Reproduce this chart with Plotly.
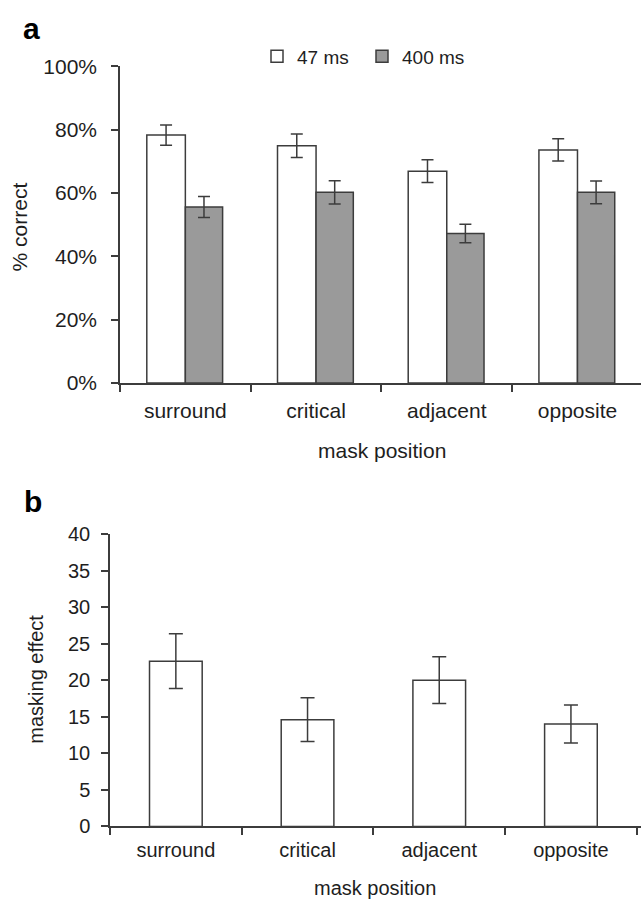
import plotly.graph_objects as go

# ---------------- data ----------------
categories = ["surround", "critical", "adjacent", "opposite"]

# panel a: % correct
correct_47ms = [78.3, 74.9, 66.9, 73.6]
err_47ms = [3.2, 3.7, 3.6, 3.5]
correct_400ms = [55.6, 60.2, 47.2, 60.2]
err_400ms = [3.3, 3.7, 2.9, 3.6]
pct_tickvals = [0, 20, 40, 60, 80, 100]
pct_ticktext = ["0%", "20%", "40%", "60%", "80%", "100%"]

# panel b: masking effect
masking_effect = [22.6, 14.6, 20.0, 14.0]
err_masking = [3.75, 3.0, 3.2, 2.6]
mask_tickvals = [0, 5, 10, 15, 20, 25, 30, 35, 40]

# ---------------- layout helpers ----------------
W, H = 641, 910
FONT = "Liberation Sans, Arial, sans-serif"
TXT = "#1e1e1e"
LINE = "#3c3c3c"
GRAY = "#9a9a9a"


def fx(p):
    return p / W


def fy(p):
    return 1 - p / H


fig = go.Figure()

fig.add_trace(go.Bar(
    x=categories, y=correct_47ms, name="47 ms",
    marker=dict(color="white", line=dict(color=LINE, width=1.5)),
    error_y=dict(type="data", array=err_47ms, color=LINE, thickness=1.5, width=6),
    width=0.295, offset=-0.295, xaxis="x", yaxis="y",
))
fig.add_trace(go.Bar(
    x=categories, y=correct_400ms, name="400 ms",
    marker=dict(color=GRAY, line=dict(color=LINE, width=1.5)),
    error_y=dict(type="data", array=err_400ms, color=LINE, thickness=1.5, width=6),
    width=0.285, offset=0.0, xaxis="x", yaxis="y",
))
fig.add_trace(go.Bar(
    x=categories, y=masking_effect, name="masking effect", showlegend=False,
    marker=dict(color="white", line=dict(color=LINE, width=1.5)),
    error_y=dict(type="data", array=err_masking, color=LINE, thickness=1.5, width=7),
    width=0.4, xaxis="x2", yaxis="y2",
))

axis_common = dict(
    showline=True, linecolor=LINE, linewidth=1.5,
    ticks="outside", ticklen=7, tickwidth=1.5, tickcolor=LINE,
    showgrid=False, zeroline=False, fixedrange=True,
)

fig.update_layout(
    width=W, height=H,
    margin=dict(l=0, r=0, t=0, b=0),
    paper_bgcolor="white", plot_bgcolor="white",
    font=dict(family=FONT, color=TXT, size=20),
    barmode="overlay",
    xaxis=dict(
        axis_common, domain=[fx(120), 1], range=[-0.5, 3.486],
        type="category", tickson="boundaries", anchor="y",
        tickfont=dict(size=21), ticklabelstandoff=8,
    ),
    yaxis=dict(
        axis_common, domain=[fy(380.7), fy(55.7)], range=[0, 100],
        tickmode="array", tickvals=pct_tickvals, ticktext=pct_ticktext, anchor="x",
        tickfont=dict(size=21), ticklabelstandoff=10,
    ),
    xaxis2=dict(
        axis_common, domain=[fx(110), 1], range=[-0.5, 3.532],
        type="category", tickson="boundaries", anchor="y2",
        tickfont=dict(size=20), ticklabelstandoff=5,
    ),
    yaxis2=dict(
        axis_common, domain=[fy(835.5), fy(535.5)], range=[0, 40],
        tickmode="array", tickvals=mask_tickvals, anchor="x2",
        tickfont=dict(size=20), ticklabelstandoff=7,
    ),
    legend=dict(
        orientation="h", x=fx(257), xanchor="left", y=fy(45.5), yanchor="middle",
        font=dict(size=19, color=TXT), bgcolor="rgba(0,0,0,0)",
        itemwidth=30, entrywidth=60, traceorder="normal",
    ),
    showlegend=True,
)

annotations = [
    dict(text="<b>a</b>", x=fx(21), y=fy(17), xanchor="left", yanchor="middle",
         font=dict(size=30, color="#000")),
    dict(text="<b>b</b>", x=fx(22), y=fy(502), xanchor="left", yanchor="middle",
         font=dict(size=30, color="#000")),
    dict(text="% correct", x=fx(19), y=fy(221), xanchor="center", yanchor="middle",
         textangle=-90, font=dict(size=21, color=TXT)),
    dict(text="mask position", x=fx(382), y=fy(450), xanchor="center", yanchor="middle",
         font=dict(size=21, color=TXT)),
    dict(text="masking effect", x=fx(36), y=fy(685), xanchor="center", yanchor="middle",
         textangle=-90, font=dict(size=20, color=TXT)),
    dict(text="mask position", x=fx(375), y=fy(899), xanchor="center", yanchor="middle",
         font=dict(size=20, color=TXT)),
]
for a in annotations:
    a.update(xref="paper", yref="paper", showarrow=False)
fig.update_layout(annotations=annotations)

fig.write_html("out.html")
